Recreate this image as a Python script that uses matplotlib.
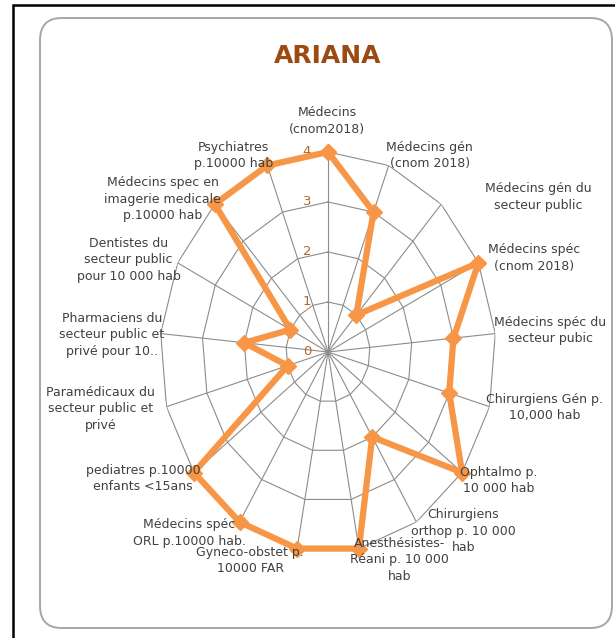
import numpy as np
import matplotlib
matplotlib.use("Agg")
import matplotlib.pyplot as plt
from matplotlib.patches import FancyBboxPatch, Rectangle

# Données du graphique radar (ARIANA)
categories = [
    "Médecins\n(cnom2018)",
    "Médecins gén\n(cnom 2018)",
    "Médecins gén du\nsecteur public",
    "Médecins spéc\n(cnom 2018)",
    "Médecins spéc du\nsecteur pubic",
    "Chirurgiens Gén p.\n10,000 hab",
    "Ophtalmo p.\n10 000 hab",
    "Chirurgiens\northop p. 10 000\nhab",
    "Anesthésistes-\nRéani p. 10 000\nhab",
    "Gyneco-obstet p.\n10000 FAR",
    "Médecins spéc\nORL p.10000 hab.",
    "pediatres p.10000\nenfants <15ans",
    "Paramédicaux du\nsecteur public et\nprivé",
    "Pharmaciens du\nsecteur public et\nprivé pour 10..",
    "Dentistes du\nsecteur public\npour 10 000 hab",
    "Médecins spec en\nimagerie medicale\np.10000 hab",
    "Psychiatres\np.10000 hab",
]
values = [4, 3, 1, 4, 3, 3, 4, 2, 4, 4, 4, 4, 1, 2, 1, 4, 4]
rings = [1, 2, 3, 4]
ring_labels = ["0", "1", "2", "3", "4"]

# décalages des étiquettes (pixels) par rapport au bout de chaque rayon
label_offsets = [(-1, 31), (41, 10), (97, 7), (56, 5), (55, 3), (55, -1),
                 (37, -8), (47, -9), (41, -11), (-47, -12), (-50, -11),
                 (-51, -6), (-66, -2), (-49, -1), (-49, 3), (-52, 5), (-34, 10)]

ORANGE = "#F79646"
GRID = "#8C8C8C"
FONT = ["Liberation Sans Narrow", "DejaVu Sans"]

fig = plt.figure(figsize=(6.15, 6.38), dpi=100)

# cadre noir extérieur et cadre arrondi gris
fig.patches.append(Rectangle((13 / 615, -0.1), 1.2, 1 - 5 / 638 + 0.1,
                             transform=fig.transFigure, fill=False,
                             edgecolor="black", lw=1.8))
fig.patches.append(FancyBboxPatch((40 / 615, 1 - 628 / 638), 572 / 615, 610 / 638,
                                  boxstyle="round,pad=0,rounding_size=0.035",
                                  transform=fig.transFigure, fill=False,
                                  edgecolor="#A6A6A6", lw=1.4))

fig.text(0.533, 1 - 56 / 638, "ARIANA", ha="center", va="center",
         fontsize=18, fontweight="bold", color="#9C4A12", family=FONT)

ax = fig.add_axes([0.2602, 0.1348, 0.5463, 0.6270], projection="polar")
ax.set_aspect("auto")
ax.set_theta_zero_location("N")
ax.set_theta_direction(-1)
ax.set_ylim(0, 4)
ax.grid(False)
ax.spines["polar"].set_visible(False)
ax.set_xticks([])
ax.set_yticks([])
ax.patch.set_alpha(0)

n = len(categories)
theta = np.linspace(0, 2 * np.pi, n, endpoint=False)
theta_c = np.append(theta, theta[0])

# grille polygonale et rayons
for r in rings:
    ax.plot(theta_c, [r] * (n + 1), color=GRID, lw=0.8, zorder=1)
for t in theta:
    ax.plot([t, t], [0, rings[-1]], color=GRID, lw=0.8, zorder=1)

# graduations
for i, lab in enumerate(ring_labels):
    ax.annotate(lab, (0, i), xytext=(-21, 0), textcoords="offset pixels",
                ha="center", va="center", fontsize=9.5, color="#B0672C",
                family=FONT, annotation_clip=False)

# série
vals_c = values + values[:1]
ax.plot(theta_c, vals_c, color=ORANGE, lw=4.5, marker="D", markersize=8,
        solid_joinstyle="round", zorder=3, clip_on=False)

# étiquettes des catégories
for t, lab, off in zip(theta, categories, label_offsets):
    ax.annotate(lab, (t, rings[-1]), xytext=off, textcoords="offset pixels",
                ha="center", va="center", multialignment="center",
                fontsize=9, color="#404040", family=FONT,
                linespacing=1.35, annotation_clip=False)

fig.savefig("out.png", dpi=100)
